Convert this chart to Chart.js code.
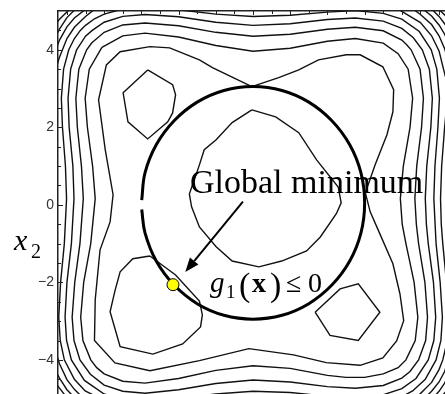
<!DOCTYPE html>
<html>
<head>
<meta charset="utf-8">
<script src="https://cdn.jsdelivr.net/npm/chart.js@4.4.0/dist/chart.umd.min.js"></script>
<style>
  html, body { margin: 0; padding: 0; background: #fff; overflow: hidden; }
  canvas { display: block; }
</style>
</head>
<body>
<canvas id="chart" width="445" height="394"></canvas>
<script>
// axis ranges and ticks (x1 horizontal, x2 vertical)
const X_RANGE = [-5.24, 5.16];
const Y_RANGE = [-4.88, 5];
const Y_TICKS = [-4, -2, 0, 2, 4];
const Y_MINOR = [-4.5, -4, -3.5, -3, -2.5, -2, -1.5, -1, -0.5, 0, 0.5, 1, 1.5, 2, 2.5, 3, 3.5, 4, 4.5];
const X_MINOR = [-5, -4.5, -4, -3.5, -3, -2.5, -2, -1.5, -1, -0.5, 0, 0.5, 1, 1.5, 2, 2.5, 3, 3.5, 4, 4.5, 5];

// contour lines as [x1, x2]
// lowest level: three small loops around the minima
const CONTOUR_TL = [[-2.83, 3.48], [-2.16, 3.10], [-2.08, 2.84], [-2.16, 2.37], [-2.29, 2.14], [-2.83, 1.70], [-3.36, 2.14], [-3.49, 2.89], [-2.83, 3.48]];
const CONTOUR_BR = [[1.67, -2.77], [2.34, -2.17], [2.83, -2.04], [3.41, -2.77], [2.83, -3.50], [2.07, -3.37], [1.67, -2.77]];
const CONTOUR_BL = [[-2.77, -1.32], [-2.08, -1.81], [-1.44, -2.48], [-1.36, -2.84], [-1.41, -3.15], [-1.89, -3.59], [-2.69, -3.85], [-3.57, -3.66], [-3.84, -2.76], [-3.71, -2.22], [-3.57, -1.73], [-3.23, -1.39], [-2.77, -1.32]];
// next level: the loop round the central hump and the big loop round all four minima
const CONTOUR_CENTER = [[-0.03, 2.45], [0.61, 2.27], [1.23, 1.86], [1.71, 1.16], [2.29, 0.46], [2.37, 0.05], [2.24, -0.23], [1.81, -0.83], [1.44, -1.19], [0.77, -1.45], [0.16, -1.60], [-0.56, -1.45], [-0.99, -1.08], [-1.44, -0.57], [-1.65, -0.05], [-1.71, 0.28], [-1.44, 1.03], [-1.31, 1.42], [-0.99, 1.68], [-0.56, 2.12], [-0.03, 2.45]];
const CONTOUR_OUTER = [[-0.03, 3.05], [0.69, 3.28], [1.23, 3.48], [1.76, 3.74], [2.51, 3.87], [2.88, 3.87], [3.49, 3.56], [3.78, 2.97], [3.76, 2.40], [3.60, 1.81], [3.28, 1.03], [3.02, 0.31], [3.15, -0.18], [3.41, -0.75], [3.76, -1.52], [3.95, -2.30], [4.05, -2.99], [3.86, -3.51], [3.49, -3.95], [2.88, -4.14], [1.97, -4.07], [1.09, -3.87], [-0.11, -3.71], [-1.44, -4.02], [-2.77, -4.28], [-3.71, -4.08], [-4.26, -3.50], [-4.24, -2.45], [-4.11, -1.16], [-3.84, -0.44], [-3.76, 0.26], [-3.97, 1.42], [-4.15, 2.71], [-3.94, 3.61], [-3.57, 3.95], [-2.77, 4.08], [-2.24, 4.05], [-1.44, 3.74], [-1.09, 3.54], [-0.03, 3.05]];
// rounded-square levels toward the edges
const FRAME_A = [[-4.06, 4.06], [-3.5, 4.36], [-2.9, 4.43], [-2.0, 4.33], [-1.0, 4.11], [0.0, 3.96], [1.0, 4.04], [2.0, 4.22], [2.75, 4.29], [3.5, 4.17], [3.9, 3.9], [4.17, 3.5], [4.29, 2.75], [4.22, 2.0], [4.04, 1.0], [3.96, 0.16], [4.01, -0.5], [4.11, -1.0], [4.22, -1.5], [4.33, -2.0], [4.43, -2.9], [4.36, -3.5], [4.11, -4.0], [3.9, -4.2], [3.5, -4.36], [3.0, -4.45], [2.5, -4.45], [2.0, -4.40], [1.0, -4.22], [0.0, -4.15], [-1.0, -4.27], [-2.0, -4.48], [-2.9, -4.60], [-3.5, -4.55], [-4.0, -4.36], [-4.2, -4.2], [-4.36, -4.0], [-4.57, -3.5], [-4.63, -2.9], [-4.55, -2.0], [-4.36, -1.0], [-4.24, 0.16], [-4.31, 1.0], [-4.45, 2.0], [-4.51, 2.75], [-4.40, 3.5], [-4.06, 4.06]];
const FRAME_B = [[-4.33, 4.18], [-4.0, 4.45], [-3.5, 4.64], [-2.9, 4.69], [-2.0, 4.62], [-1.0, 4.45], [0.0, 4.35], [1.0, 4.40], [2.0, 4.53], [2.75, 4.58], [3.5, 4.49], [4.0, 4.25], [4.13, 4.13], [4.25, 4.0], [4.49, 3.5], [4.58, 2.75], [4.53, 2.0], [4.40, 1.0], [4.35, 0.16], [4.39, -0.5], [4.45, -1.0], [4.62, -2.0], [4.69, -2.9], [4.64, -3.5], [4.45, -4.0], [4.22, -4.3], [4.0, -4.47], [3.5, -4.66], [2.75, -4.73], [2.0, -4.69], [1.0, -4.57], [0.0, -4.52], [-1.0, -4.61], [-2.0, -4.77], [-2.9, -4.86], [-3.5, -4.81], [-4.0, -4.65], [-4.37, -4.37], [-4.65, -4.0], [-4.81, -3.5], [-4.86, -2.9], [-4.79, -2.0], [-4.65, -1.0], [-4.56, 0.16], [-4.61, 1.0], [-4.72, 2.0], [-4.76, 2.75], [-4.68, 3.5], [-4.47, 4.0], [-4.33, 4.18]];
const FRAME_C = [[-4.74, 4.0], [-4.5, 4.35], [-4.32, 4.5], [-4.0, 4.71], [-3.5, 4.86], [-2.9, 4.91], [-2.0, 4.85], [-1.0, 4.71], [0.0, 4.63], [1.0, 4.67], [2.0, 4.78], [2.75, 4.82], [3.5, 4.74], [4.0, 4.55], [4.31, 4.31], [4.55, 4.0], [4.74, 3.5], [4.82, 2.75], [4.78, 2.0], [4.67, 1.0], [4.63, 0.16], [4.66, -0.5], [4.71, -1.0], [4.85, -2.0], [4.91, -2.9], [4.86, -3.5], [4.71, -4.0], [4.38, -4.48], [4.0, -4.74], [3.5, -4.90], [2.75, -4.97], [2.0, -4.94], [1.0, -4.84], [0.0, -4.81], [-1.0, -4.88], [-2.0, -5.0], [-2.9, -5.05], [-3.5, -5.01], [-4.0, -4.88], [-4.53, -4.53], [-4.88, -4.0], [-5.01, -3.5], [-5.05, -2.9], [-5.0, -2.0], [-4.88, -1.0], [-4.81, 0.16], [-4.84, 1.0], [-4.94, 2.0], [-4.97, 2.75], [-4.90, 3.5], [-4.74, 4.0]];
const FRAME_D = [[4.0, -4.95], [4.29, -4.8], [4.63, -4.5], [4.92, -4.0], [5.05, -3.5], [5.09, -2.9], [5.03, -2.0], [4.92, -1.0], [4.86, 0.16], [4.89, 1.0], [4.97, 2.0], [5.01, 2.75], [4.94, 3.5], [4.79, 4.0], [4.47, 4.47], [4.0, 4.79], [3.5, 4.94], [2.75, 5.01], [2.0, 4.97], [1.0, 4.89], [0.0, 4.86], [-1.0, 4.92], [-2.0, 5.03], [-2.9, 5.09], [-3.5, 5.05], [-4.0, 4.92], [-4.26, 4.8], [-4.5, 4.63], [-4.64, 4.5], [-4.8, 4.29], [-4.95, 4.0], [-5.09, 3.5], [-5.15, 2.75], [-5.12, 2.0], [-5.04, 1.0], [-5.01, 0.16], [-5.07, -1.0], [-5.17, -2.0], [-5.22, -2.9], [-5.18, -3.5], [-5.07, -4.0], [-4.80, -4.5], [-4.51, -4.8], [-4.2, -4.95]];
// outer levels that only cross the plot near the edges and corners
const EDGE_SEGMENTS = [
    [[5.2, 2.5], [5.15, 2.0], [5.07, 1.0], [5.04, 0.16], [5.06, -0.5], [5.10, -1.0], [5.15, -1.5], [5.2, -2.0]],
    [[-4.25, 5.05], [-4.5, 4.86], [-4.8, 4.58], [-5.0, 4.29], [-5.2, 3.81], [-5.3, 3.5]],
    [[3.9, 5.05], [4.0, 4.99], [4.5, 4.7], [4.8, 4.36], [5.0, 3.97], [5.12, 3.5], [5.2, 3.2]],
    [[4.4, -4.95], [4.5, -4.87], [4.8, -4.58], [5.0, -4.25], [5.1, -4.0], [5.2, -3.6]],
    [[-4.6, -4.95], [-4.8, -4.76], [-5.0, -4.51], [-5.2, -4.1], [-5.3, -3.8]],
    [[-4.49, 5.05], [-4.8, 4.82], [-5.0, 4.59], [-5.2, 4.25], [-5.3, 4.0]],
    [[4.3, 5.05], [4.5, 4.91], [4.8, 4.65], [5.0, 4.36], [5.15, 4.03], [5.2, 3.85]],
    [[4.65, -4.95], [4.8, -4.81], [5.0, -4.57], [5.15, -4.3], [5.2, -4.15]],
    [[-4.82, -4.95], [-5.0, -4.77], [-5.2, -4.47], [-5.3, -4.3]],
    [[-4.77, 5.05], [-5.0, 4.83], [-5.2, 4.53], [-5.3, 4.35]],
    [[4.57, 5.05], [4.8, 4.87], [5.0, 4.64], [5.15, 4.4], [5.2, 4.3]],
    [[4.87, -4.95], [5.0, -4.81], [5.15, -4.6], [5.2, -4.5]],
    [[-5.02, -4.95], [-5.2, -4.73], [-5.3, -4.6]],
    [[-4.92, 5.05], [-5.2, 4.79], [-5.3, 4.65]],
    [[4.8, 5.05], [5.0, 4.86], [5.15, 4.67], [5.2, 4.6]],
    [[5.06, -4.95], [5.2, -4.8]],
    [[4.99, 5.05], [5.15, 4.9], [5.2, 4.85]]
];

// constraint boundary g1(x) = 0 (it has a small break on the left)
const CONSTRAINT = [[-2.99, -0.12], [-2.90, -0.73], [-2.60, -1.45], [-2.12, -2.07], [-1.50, -2.55], [-0.78, -2.85], [0, -2.95], [0.78, -2.85], [1.50, -2.55], [2.12, -2.07], [2.60, -1.45], [2.90, -0.73], [3.00, 0.05], [2.90, 0.83], [2.60, 1.55], [2.12, 2.17], [1.50, 2.65], [0.78, 2.95], [0, 3.05], [-0.78, 2.95], [-1.50, 2.65], [-2.12, 2.17], [-2.60, 1.55], [-2.90, 0.83], [-2.99, 0.12]];

const GLOBAL_MIN = [[-2.15, -2.06]];
const ARROW_FROM = [-0.27, 0.08];
const ARROW_TO = [-1.82, -1.73];

const toPoints = (pairs) => pairs.map(([x, y]) => ({ x, y }));

const contourSet = (pairs) => ({
    data: toPoints(pairs),
    showLine: true,
    borderColor: '#111',
    borderWidth: 1.4,
    pointRadius: 0,
    tension: 0,
    clip: 0,
});

const contours = [
    CONTOUR_TL, CONTOUR_BR, CONTOUR_BL, CONTOUR_CENTER, CONTOUR_OUTER,
    FRAME_A, FRAME_B, FRAME_C, FRAME_D, ...EDGE_SEGMENTS,
];

const decorations = {
    id: 'decorations',
    afterDraw(chart) {
        const { ctx, chartArea, scales } = chart;
        const { x, y } = scales;
        ctx.save();

        // tick marks pointing into the plot
        ctx.strokeStyle = '#222';
        ctx.lineWidth = 1;
        ctx.beginPath();
        Y_MINOR.forEach((v) => {
            const py = Math.round(y.getPixelForValue(v)) + 0.5;
            const len = Y_TICKS.includes(v) ? 5 : 3;
            ctx.moveTo(chartArea.left, py);
            ctx.lineTo(chartArea.left + len, py);
        });
        X_MINOR.forEach((v) => {
            const px = Math.round(x.getPixelForValue(v)) + 0.5;
            const len = Number.isInteger(v) ? 4 : 3;
            ctx.moveTo(px, chartArea.top);
            ctx.lineTo(px, chartArea.top + len);
        });
        ctx.stroke();

        // arrow to the global minimum
        const x0 = x.getPixelForValue(ARROW_FROM[0]);
        const y0 = y.getPixelForValue(ARROW_FROM[1]);
        const x1 = x.getPixelForValue(ARROW_TO[0]);
        const y1 = y.getPixelForValue(ARROW_TO[1]);
        const ang = Math.atan2(y1 - y0, x1 - x0);
        const headLen = 14;
        const headHalf = 5.5;
        const bx = x1 - headLen * Math.cos(ang);
        const by = y1 - headLen * Math.sin(ang);
        ctx.strokeStyle = '#000';
        ctx.lineWidth = 2;
        ctx.beginPath();
        ctx.moveTo(x0, y0);
        ctx.lineTo(bx, by);
        ctx.stroke();
        ctx.fillStyle = '#000';
        ctx.beginPath();
        ctx.moveTo(x1, y1);
        ctx.lineTo(bx + headHalf * Math.sin(ang), by - headHalf * Math.cos(ang));
        ctx.lineTo(bx - headHalf * Math.sin(ang), by + headHalf * Math.cos(ang));
        ctx.closePath();
        ctx.fill();

        // annotations
        ctx.fillStyle = '#000';
        ctx.textBaseline = 'alphabetic';
        ctx.textAlign = 'left';
        ctx.font = '34px "Liberation Serif"';
        ctx.fillText('Global minimum', 190, 193);

        ctx.font = 'italic 29px "Liberation Serif"';
        ctx.fillText('g', 210, 292);
        ctx.font = '19px "Liberation Serif"';
        ctx.fillText('1', 226, 298);
        ctx.font = '34px "Liberation Serif"';
        ctx.fillText('(', 239, 296);
        ctx.font = 'bold 28px "Liberation Serif"';
        ctx.fillText('x', 252, 292);
        ctx.font = '34px "Liberation Serif"';
        ctx.fillText(')', 270, 296);
        ctx.font = '28px "Liberation Serif"';
        ctx.fillText('\u2264', 286, 292);
        ctx.fillText('0', 308, 292);

        // vertical axis title
        ctx.font = 'italic 30px "Liberation Serif"';
        ctx.fillText('x', 14, 250);
        ctx.font = '20px "Liberation Serif"';
        ctx.fillText('2', 31, 258);

        ctx.restore();
    },
};

new Chart(document.getElementById('chart'), {
    type: 'scatter',
    data: {
        datasets: [
            {
                data: toPoints(GLOBAL_MIN),
                pointRadius: 6,
                pointHoverRadius: 6,
                pointBackgroundColor: '#ffff00',
                pointBorderColor: '#000',
                pointBorderWidth: 1,
            },
            {
                data: toPoints(CONSTRAINT),
                showLine: true,
                borderColor: '#000',
                borderWidth: 3,
                pointRadius: 0,
                tension: 0.4,
                clip: 0,
            },
            ...contours.map(contourSet),
        ],
    },
    plugins: [decorations],
    options: {
        responsive: false,
        animation: false,
        devicePixelRatio: 1,
        events: [],
        layout: { padding: 0, autoPadding: false },
        plugins: { legend: { display: false }, tooltip: { enabled: false } },
        scales: {
            x: {
                type: 'linear',
                position: 'top',
                min: X_RANGE[0],
                max: X_RANGE[1],
                ticks: { display: false },
                grid: { display: true, drawOnChartArea: false, drawTicks: false },
                border: { display: true, color: '#222', width: 1.5 },
                afterFit: (scale) => {
                    scale.height = 11;
                    scale.paddingLeft = 0;
                    scale.paddingRight = 0;
                },
            },
            y: {
                type: 'linear',
                min: Y_RANGE[0],
                max: Y_RANGE[1],
                afterBuildTicks: (scale) => { scale.ticks = Y_TICKS.map((value) => ({ value })); },
                ticks: {
                    padding: 4,
                    color: '#333',
                    font: { family: 'Liberation Sans', size: 14 },
                    callback: (v) => (v < 0 ? '\u2212' + Math.abs(v) : String(v)),
                },
                grid: { display: true, drawOnChartArea: false, drawTicks: false },
                border: { display: true, color: '#222', width: 1.5 },
                afterFit: (scale) => {
                    scale.width = 58;
                    scale.paddingTop = 0;
                    scale.paddingBottom = 0;
                },
            },
        },
    },
});
</script>
</body>
</html>
